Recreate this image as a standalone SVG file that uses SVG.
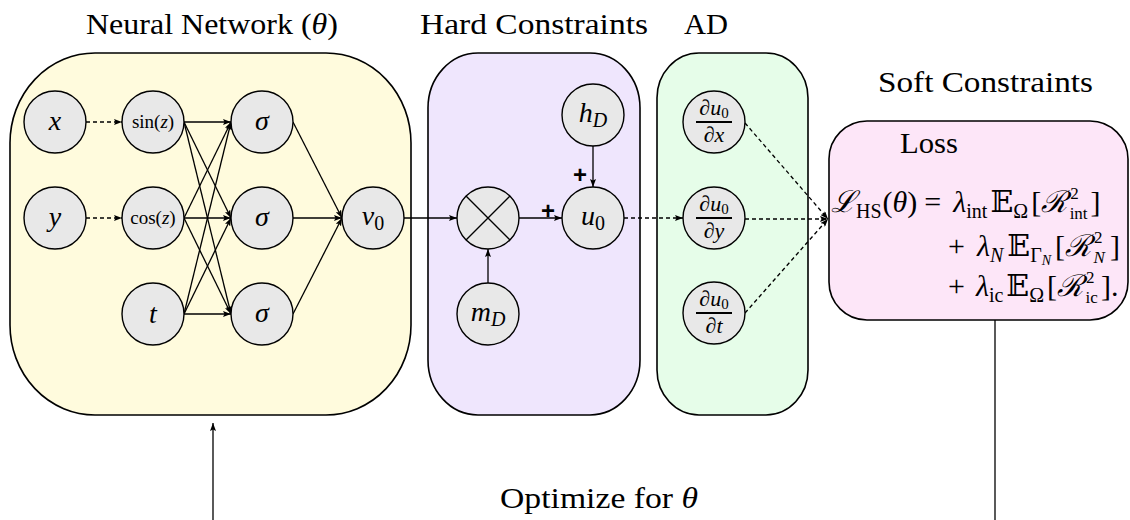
<svg xmlns="http://www.w3.org/2000/svg" width="1130" height="520" viewBox="0 0 1130 520">
  <defs>
    <marker id="ah" viewBox="0 0 8 6" refX="8" refY="3" markerWidth="8" markerHeight="6" markerUnits="userSpaceOnUse" orient="auto">
      <path d="M0,0 L8,3 L0,6 L1.5,3 z" fill="#000"/>
    </marker>
    <style>
      .tx { font-family: "Liberation Serif", "DejaVu Serif", serif; fill: #000; }
      .it { font-style: italic; }
      .s { font-size: 20px; }
      .n { fill: #e8e8e8; stroke: #000; stroke-width: 1.4; }
      .box { stroke: #000; stroke-width: 1.6; }
      .e { fill: none; stroke: #000; stroke-width: 1.3; marker-end: url(#ah); }
      .d { stroke-dasharray: 4 3; }
      .plus { font-family: "Liberation Sans", "DejaVu Sans", sans-serif; font-weight: bold; font-size: 24px; }
    </style>
  </defs>

  <!-- titles -->
  <g id="titles" class="tx" font-size="29">
    <text x="86" y="34" textLength="252" lengthAdjust="spacingAndGlyphs">Neural Network (<tspan class="it">θ</tspan>)</text>
    <text x="420" y="34" textLength="228" lengthAdjust="spacingAndGlyphs">Hard Constraints</text>
    <text x="684" y="34" textLength="44" lengthAdjust="spacingAndGlyphs">AD</text>
    <text x="878" y="92" textLength="215" lengthAdjust="spacingAndGlyphs">Soft Constraints</text>
    <text x="500" y="508" textLength="198" lengthAdjust="spacingAndGlyphs">Optimize for  <tspan class="it">θ</tspan></text>
  </g>

  <!-- background panels -->
  <g id="panel-nn">
    <path class="box" fill="#fffbdd" d="M95,53 H326 A85,90 0 0 1 411,143 V325 A85,90 0 0 1 326,415 H95 A85,90 0 0 1 10,325 V143 A85,90 0 0 1 95,53 Z"/>
  </g>
  <g id="panel-hard">
    <path class="box" fill="#efe6fd" d="M478,53 H590 A50,55 0 0 1 640,108 V360 A50,55 0 0 1 590,415 H478 A50,55 0 0 1 428,360 V108 A50,55 0 0 1 478,53 Z"/>
  </g>
  <g id="panel-ad">
    <path class="box" fill="#e6fde9" d="M699,53 H766 A42,45 0 0 1 808,98 V370 A42,45 0 0 1 766,415 H699 A42,45 0 0 1 657,370 V98 A42,45 0 0 1 699,53 Z"/>
  </g>
  <g id="panel-loss">
    <path class="box" fill="#fde6f8" d="M867,121 H1090 A38,38 0 0 1 1128,159 V282 A38,38 0 0 1 1090,320 H867 A38,38 0 0 1 829,282 V159 A38,38 0 0 1 867,121 Z"/>
    <text class="tx" x="900" y="153" font-size="29" textLength="58" lengthAdjust="spacingAndGlyphs">Loss</text>
    <g class="tx" font-size="30">
      <text x="831" y="212"><tspan class="it">ℒ</tspan><tspan class="s" dy="6">HS</tspan><tspan dx="1" dy="-6">(</tspan><tspan class="it">θ</tspan>)<tspan dx="7">=</tspan><tspan class="it" dx="12">λ</tspan><tspan class="s" dy="6">int</tspan><tspan dx="3" dy="-6">𝔼</tspan><tspan class="s" dy="6">Ω</tspan><tspan dx="3" dy="-6">[</tspan><tspan class="it">ℛ</tspan><tspan font-size="17" dx="3" dy="-13">2</tspan><tspan font-size="17" dx="-9" dy="20">int</tspan><tspan dx="3" dy="-7">]</tspan></text>
      <text x="948" y="256">+<tspan class="it" dx="12">λ</tspan><tspan class="s it" dy="6">N</tspan><tspan dx="4" dy="-6">𝔼</tspan><tspan class="s" dy="6">Γ</tspan><tspan class="it" font-size="14" dy="3">N</tspan><tspan dx="4" dy="-9">[</tspan><tspan class="it">ℛ</tspan><tspan font-size="17" dx="3" dy="-13">2</tspan><tspan class="it" font-size="17" dx="-9" dy="20">N</tspan><tspan dx="5" dy="-7">]</tspan></text>
      <text x="948" y="296">+<tspan class="it" dx="11">λ</tspan><tspan class="s" dy="6">ic</tspan><tspan dx="3" dy="-6">𝔼</tspan><tspan class="s" dy="6">Ω</tspan><tspan dx="3" dy="-6">[</tspan><tspan class="it">ℛ</tspan><tspan font-size="17" dx="3" dy="-13">2</tspan><tspan font-size="17" dx="-9" dy="20">ic</tspan><tspan dx="3" dy="-7">].</tspan></text>
    </g>
  </g>

  <!-- connectors -->
  <g id="connectors">
    <line class="e d" x1="86" y1="122" x2="122" y2="122"/>
    <line class="e d" x1="86" y1="218" x2="122" y2="218"/>

    <line class="e" x1="184" y1="122" x2="231" y2="122"/>
    <line class="e" x1="184" y1="122" x2="231" y2="218"/>
    <line class="e" x1="184" y1="122" x2="231" y2="314"/>
    <line class="e" x1="184" y1="218" x2="231" y2="122"/>
    <line class="e" x1="184" y1="218" x2="231" y2="218"/>
    <line class="e" x1="184" y1="218" x2="231" y2="314"/>
    <line class="e" x1="184" y1="314" x2="231" y2="122"/>
    <line class="e" x1="184" y1="314" x2="231" y2="218"/>
    <line class="e" x1="184" y1="314" x2="231" y2="314"/>

    <line class="e" x1="293" y1="122" x2="342" y2="218"/>
    <line class="e" x1="293" y1="218" x2="342" y2="218"/>
    <line class="e" x1="293" y1="314" x2="342" y2="218"/>

    <line class="e" x1="404" y1="218" x2="457" y2="218"/>
    <line class="e" x1="488" y1="283" x2="488" y2="249"/>
    <line class="e" x1="519" y1="218" x2="562" y2="218"/>
    <line class="e" x1="593" y1="146" x2="593" y2="187"/>
    <line class="e d" x1="624" y1="218" x2="683" y2="218"/>

    <line class="e d" x1="745" y1="123" x2="828" y2="219"/>
    <line class="e d" x1="745" y1="219" x2="828" y2="219"/>
    <line class="e d" x1="745" y1="313" x2="828" y2="219"/>

    <line class="e" x1="213" y1="520" x2="213" y2="423"/>
    <line fill="none" stroke="#000" stroke-width="1.3" x1="995" y1="320" x2="995" y2="520"/>

    <text class="plus" x="548" y="219" text-anchor="middle">+</text>
    <text class="plus" x="580" y="183" text-anchor="middle">+</text>
  </g>

  <!-- network nodes -->
  <g id="node-x"><circle class="n" cx="55" cy="122" r="31"/><text class="tx it" x="55" y="130" font-size="28" text-anchor="middle">x</text></g>
  <g id="node-y"><circle class="n" cx="55" cy="218" r="31"/><text class="tx it" x="55" y="226" font-size="28" text-anchor="middle">y</text></g>
  <g id="node-sin"><circle class="n" cx="153" cy="122" r="31"/><text class="tx" x="153" y="128" font-size="19" text-anchor="middle">sin(<tspan class="it">z</tspan>)</text></g>
  <g id="node-cos"><circle class="n" cx="153" cy="218" r="31"/><text class="tx" x="153" y="224" font-size="19" text-anchor="middle">cos(<tspan class="it">z</tspan>)</text></g>
  <g id="node-t"><circle class="n" cx="153" cy="314" r="31"/><text class="tx it" x="153" y="323" font-size="28" text-anchor="middle">t</text></g>
  <g id="node-s1"><circle class="n" cx="262" cy="122" r="31"/><text class="tx it" x="262" y="130" font-size="28" text-anchor="middle">σ</text></g>
  <g id="node-s2"><circle class="n" cx="262" cy="218" r="31"/><text class="tx it" x="262" y="226" font-size="28" text-anchor="middle">σ</text></g>
  <g id="node-s3"><circle class="n" cx="262" cy="314" r="31"/><text class="tx it" x="262" y="322" font-size="28" text-anchor="middle">σ</text></g>
  <g id="node-v0"><circle class="n" cx="373" cy="218" r="31"/><text class="tx" x="373" y="225" font-size="28" text-anchor="middle"><tspan class="it">v</tspan><tspan font-size="20" dy="5">0</tspan></text></g>

  <!-- hard constraint nodes -->
  <g id="node-mul"><circle class="n" cx="488" cy="218" r="31"/><path d="M466,196 L510,240 M510,196 L466,240" stroke="#000" stroke-width="1.4"/></g>
  <g id="node-mD"><circle class="n" cx="488" cy="314" r="31"/><text class="tx" x="488" y="321" font-size="28" text-anchor="middle"><tspan class="it">m</tspan><tspan class="it" font-size="20" dy="5">D</tspan></text></g>
  <g id="node-hD"><circle class="n" cx="593" cy="115" r="31"/><text class="tx" x="593" y="122" font-size="28" text-anchor="middle"><tspan class="it">h</tspan><tspan class="it" font-size="20" dy="5">D</tspan></text></g>
  <g id="node-u0"><circle class="n" cx="593" cy="218" r="31"/><text class="tx" x="593" y="225" font-size="28" text-anchor="middle"><tspan class="it">u</tspan><tspan font-size="20" dy="5">0</tspan></text></g>

  <!-- derivative nodes -->
  <g id="node-dx"><circle class="n" cx="714" cy="122" r="31"/><text class="tx" x="714" y="115" font-size="22" text-anchor="middle">∂<tspan class="it">u</tspan><tspan font-size="15" dy="3">0</tspan></text><line x1="696" y1="122" x2="732" y2="122" stroke="#000" stroke-width="2"/><text class="tx" x="714" y="142" font-size="22" text-anchor="middle">∂<tspan class="it">x</tspan></text></g>
  <g id="node-dy"><circle class="n" cx="714" cy="218" r="31"/><text class="tx" x="714" y="211" font-size="22" text-anchor="middle">∂<tspan class="it">u</tspan><tspan font-size="15" dy="3">0</tspan></text><line x1="696" y1="218" x2="732" y2="218" stroke="#000" stroke-width="2"/><text class="tx" x="714" y="238" font-size="22" text-anchor="middle">∂<tspan class="it">y</tspan></text></g>
  <g id="node-dt"><circle class="n" cx="714" cy="313" r="31"/><text class="tx" x="714" y="306" font-size="22" text-anchor="middle">∂<tspan class="it">u</tspan><tspan font-size="15" dy="3">0</tspan></text><line x1="696" y1="313" x2="732" y2="313" stroke="#000" stroke-width="2"/><text class="tx" x="714" y="333" font-size="22" text-anchor="middle">∂<tspan class="it">t</tspan></text></g>
</svg>
